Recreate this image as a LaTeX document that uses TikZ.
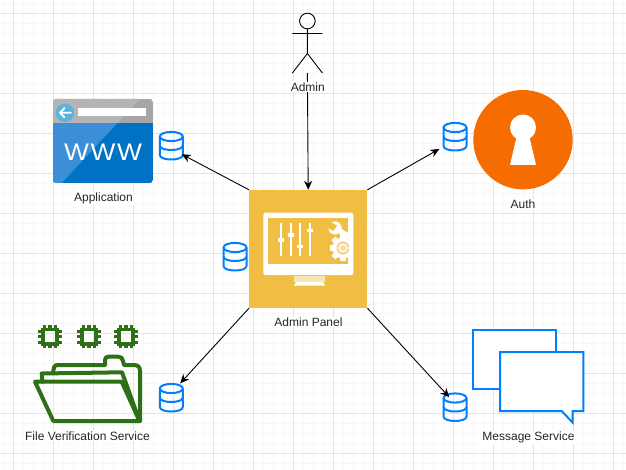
\documentclass[tikz,border=0pt]{standalone}
\usepackage{fontspec}
\setmainfont{Liberation Sans}
\usetikzlibrary{arrows.meta,calc}
\definecolor{gridmajor}{HTML}{E4E4E4}
\definecolor{gridminor}{HTML}{F8F8F8}
\definecolor{dbblue}{HTML}{007FFF}
\definecolor{panelgold}{HTML}{F0BE42}
\definecolor{folgreen}{HTML}{2D7016}
\definecolor{authorange}{HTML}{F56C00}
\definecolor{wwwdark}{HTML}{0072C6}
\definecolor{wwwlight}{HTML}{3B8FD6}
\definecolor{graydark}{HTML}{A6A6A6}
\definecolor{graylight}{HTML}{B4B4B4}
\definecolor{wwwcirc}{HTML}{59B4D9}
\tikzset{
  label text/.style={font=\fontsize{12}{14}\selectfont,text=black!85,fill=white,inner sep=1pt},
  arr/.style={draw=black,line width=0.9pt,-{Stealth[length=9pt,width=8pt]}},
  dbline/.style={draw=dbblue,line width=2pt,line join=round},
  msgbox/.style={draw=dbblue,line width=2pt,fill=white,line join=miter},
  folderline/.style={draw=folgreen,line width=4pt,line join=round,line cap=round},
  chipline/.style={draw=folgreen,line width=3.8pt},
  actorline/.style={draw=black,line width=0.9pt},
}
\newcommand{\dbicon}[3]{%
  \node[inner sep=0pt,minimum width=25pt,minimum height=30pt] (#1) at (#2,#3) {};
  \begin{scope}[shift={(#2,#3)}]
    \draw[dbline] (0,-9.5) ellipse [x radius=11.5pt,y radius=4.6pt];
    \draw[dbline] (-11.5,-9.5) -- (-11.5,9) .. controls (-11.5,15) and (11.5,15) .. (11.5,9) -- (11.5,-9.5);
    \draw[dbline] (-11.5,-0.5) .. controls (-11.5,5.5) and (11.5,5.5) .. (11.5,-0.5);
  \end{scope}}
\newcommand{\chipicon}[1]{%
  \begin{scope}[shift={(#1,336.7)}]
    \draw[chipline] (-7.2,-7.2) rectangle (7.2,7.2);
    \foreach \p in {-5.6,0,5.6}{
      \draw[folgreen,line width=3.2pt] (\p,-11.7) -- (\p,-8) (\p,8) -- (\p,11.7) (-11.7,\p) -- (-8,\p) (8,\p) -- (11.7,\p);
    }
  \end{scope}}
\begin{document}
\begin{tikzpicture}[x=1pt,y=-1pt]
\useasboundingbox (0,0) rectangle (626,470);
\fill[white] (0,0) rectangle (626,470);
% grid
\foreach \k in {0,...,62}{
  \draw[gridminor,line width=1pt] ({3.5+10*\k},0) -- ({3.5+10*\k},470);
}
\foreach \k in {0,...,46}{
  \draw[gridminor,line width=1pt] (0,{3.5+10*\k}) -- (626,{3.5+10*\k});
}
\foreach \k in {0,...,15}{
  \draw[gridmajor,line width=1pt] ({13.5+40*\k},0) -- ({13.5+40*\k},470);
}
\foreach \k in {0,...,11}{
  \draw[gridmajor,line width=1pt] (0,{13.5+40*\k}) -- (626,{13.5+40*\k});
}
% actor
\node[inner sep=0pt,minimum width=30pt,minimum height=60pt] (actor) at (307.4,43) {};
\draw[actorline] (307.4,21) circle [radius=7.8pt];
\draw[actorline] (307.4,29) -- (307.4,53.5) (292.4,33.5) -- (322.4,33.5)
  (292.4,73) -- (307.4,53.5) -- (322.4,73);
% application
\node[inner sep=0pt,minimum width=100pt,minimum height=84pt] (app) at (103,141) {};
\begin{scope}
  \clip[rounded corners=3pt] (53,99) rectangle (153,183);
  \fill[wwwdark] (53,123) rectangle (153,183);
  \fill[graydark] (53,99) rectangle (153,123);
  \fill[wwwlight] (53,123) -- (117.5,123) -- (61.7,183) -- (53,183) -- cycle;
  \fill[graylight] (53,99) -- (140,99) -- (117.5,123) -- (53,123) -- cycle;
\end{scope}
\fill[wwwcirc] (65,112.7) circle [radius=9.3pt];
\draw[white,line width=1.8pt,line cap=round,line join=round] (71,112.7) -- (60,112.7) (64.5,108) -- (60,112.7) -- (64.5,117.4);
\fill[white] (78.3,108) rectangle (146,116);
\node[inner sep=0pt,text=white,font=\fontsize{24}{26}\selectfont\addfontfeature{LetterSpace=6},xscale=1.1,transform shape] (wwwtext) at (103,152.5) {WWW};
% panel
\node[inner sep=0pt,minimum width=118pt,minimum height=118pt,fill=panelgold] (panel) at (308.2,249) {};
\fill[white,rounded corners=1.5pt] (263.3,212.7) rectangle (353.3,275);
\fill[panelgold] (267.7,218) rectangle (348,264);
\fill[white,opacity=0.6] (294,276) rectangle (325,282);
\fill[white] (296,282) -- (323,282) -- (325,285.5) -- (294,285.5) -- cycle;
\foreach \sx/\ky in {281/240,290.7/235,300/246.7,310/230.7}{
  \draw[white,line width=2pt] (\sx,223) -- (\sx,256);
  \fill[white] ({\sx-3},{\ky-1.6}) rectangle ({\sx+3},{\ky+1.6});
}
\begin{scope}
  \clip (320,218) rectangle (348.5,264);
  \foreach \a in {0,45,...,315}{
    \fill[white,rotate around={\a:(343,248)}] (340.2,234.5) rectangle (345.8,240);
  }
  \fill[white] (343,248) circle [radius=10.5pt];
  \fill[panelgold!70!white] (343,248) circle [radius=6.5pt];
  \fill[white] (343,248) circle [radius=4.6pt];
  \fill[panelgold!50!white] (343,248) circle [radius=3pt];
  \draw[white,line width=5pt] (335,228) -- (350,237);
  \fill[white] (335,228) circle [radius=6.6pt];
  \fill[panelgold] (329,221) -- (337,225.5) -- (333.5,231) -- (326,227) -- cycle;
\end{scope}
% auth
\node[circle,inner sep=0pt,minimum size=99.4pt,fill=authorange] (auth) at (523,139.7) {};
\fill[white] (517,135) -- (510,165) -- (536,165) -- (529,135) -- cycle;
\fill[white] (523,127.5) circle [radius=13pt];
% folder
\node[inner sep=0pt,minimum width=107pt,minimum height=67pt] (folder) at (87.5,389) {};
\chipicon{50}
\chipicon{89}
\chipicon{126}
\draw[folderline] (35,381.7) -- (121.7,381.7) -- (139.5,421) -- (53.3,421) -- cycle;
\draw[folderline] (42.5,381.7) -- (41.7,373.5) -- (122,372.3) -- (139.5,421);
\draw[folderline] (53,372.5) -- (54,367.5) .. controls (54.6,365.3) and (56,365) .. (58,365)
  -- (105,365) -- (105,360) .. controls (105,357.5) and (106.5,356.7) .. (108.5,356.7)
  -- (118,356.7) .. controls (121,356.7) and (122.5,358) .. (123,361) -- (124,365)
  -- (134,365) .. controls (138,365) and (140,367) .. (140,371) -- (140,421);
% messages
\node[inner sep=0pt,minimum width=111pt,minimum height=92pt] (msg) at (528,376.5) {};
\draw[msgbox] (472.7,330.3) rectangle (555.7,389.3);
\draw[msgbox] (500,352) -- (583.3,352) -- (583.3,411) -- (572.7,411) -- (572.7,422.7) -- (561.7,411) -- (500,411) -- cycle;
% data stores
\dbicon{dbApp}{171.3}{146}
\dbicon{dbAdmin}{235}{257}
\dbicon{dbFile}{171.3}{398}
\dbicon{dbAuth}{455}{137}
\dbicon{dbMsg}{455}{407.5}
% connectors
\draw[arr] (actor.south) -- (panel.north);
\draw[arr] (panel.north west) -- ($(dbApp)+(10.5,8.3)$);
\draw[arr] (panel.north east) -- ($(dbAuth)+(-15.7,12)$);
\draw[arr] (panel.south west) -- ($(dbFile)+(8.9,-14.7)$);
\draw[arr] (panel.south east) -- ($(dbMsg)+(-5.7,-10.3)$);
% labels
\node[label text] (lblAdmin) at (307.8,87) {Admin};
\node[label text] (lblApp) at (103.5,198.7) {Application};
\node[label text] (lblPanel) at (308.5,322) {Admin Panel};
\node[label text] (lblAuth) at (523,204) {Auth};
\node[label text] (lblFile) at (87.5,436) {File Verification Service};
\node[label text] (lblMsg) at (528.5,437.7) {Message Service};
\end{tikzpicture}
\end{document}
